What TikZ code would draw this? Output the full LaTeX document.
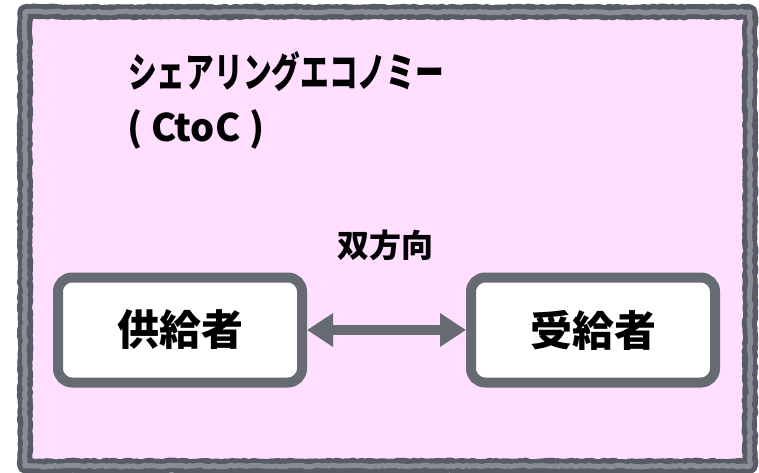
\documentclass[tikz,border=0pt]{standalone}
\usepackage{fontspec}
\newfontfamily\jpfont{Noto Sans CJK JP}
\newfontfamily\jpnarrow{Noto Sans CJK JP}[FakeStretch=0.7]
\usetikzlibrary{arrows.meta, decorations.pathmorphing}

\definecolor{sheetpink}{HTML}{FFDEFF}
\definecolor{edgegray}{HTML}{575B63}
\definecolor{boxgray}{HTML}{666A71}

\tikzset{
  actorbox/.style={draw=boxgray, line width=10pt, fill=white, rounded corners=14pt,
    minimum width=244pt, minimum height=105pt, font=\jpfont\bfseries\fontsize{42}{46}\selectfont},
  titletext/.style={anchor=west, inner sep=0pt, font=\jpnarrow\bfseries\fontsize{41}{44}\selectfont},
  roughedge/.style={draw=edgegray, line width=#1, line join=round,
    decorate, decoration={random steps, segment length=3pt, amplitude=0.9pt}},
  twoway/.style={boxgray, line width=10pt,
    {Triangle[length=26pt,width=32pt]}-{Triangle[length=26pt,width=32pt]}}
}

\begin{document}
\begin{tikzpicture}[x=1pt, y=-1pt]
\useasboundingbox (0,0) rectangle (759,473);

%the pink sheet with its rough edge
\fill[sheetpink] (25,12) rectangle (750,466);
\draw[roughedge=15pt] (25,12) rectangle (750,466);
\draw[roughedge=5pt, edgegray!70] (25,12) rectangle (750,466);

%title
\node[titletext] (title) at (128,72) {シェアリングエコノミー};
\node[titletext, font=\jpfont\bfseries\fontsize{38}{42}\selectfont] (kind) at (127,129) {( CtoC )};

%the two sides
\node[actorbox] (supplier) at (180,330) {供給者};
\node[actorbox] (receiver) at (593,330) {受給者};

\draw[twoway] (supplier.east) -- (receiver.west);
\node[font=\jpfont\bfseries\fontsize{32}{36}\selectfont] (both) at (385,245) {双方向};

\end{tikzpicture}
\end{document}
